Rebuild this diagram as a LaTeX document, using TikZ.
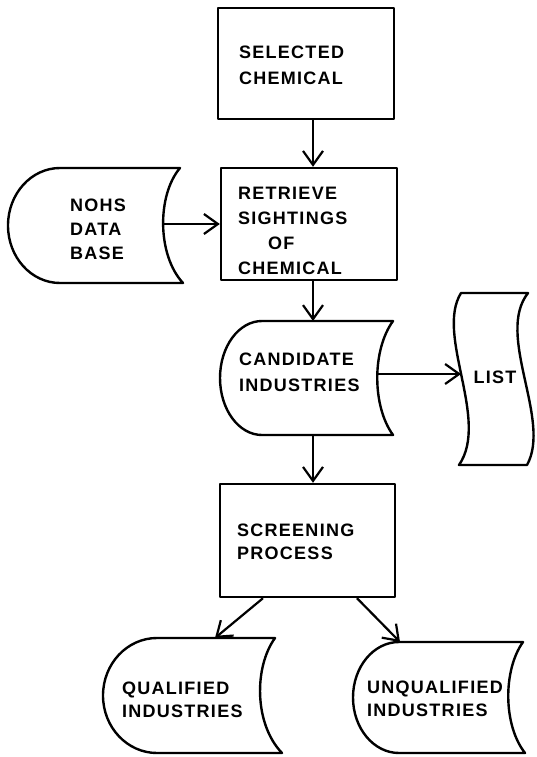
\documentclass[tikz,border=0pt]{standalone}
\usepackage{fontspec}
\newfontfamily\plotfont{Liberation Sans}[LetterSpace=7]
\usetikzlibrary{arrows.meta,calc}

\begin{document}
\begin{tikzpicture}[x=1pt,y=-1pt,
  outline/.style={draw=black,line width=2.4pt,line join=round},
  procbox/.style={outline,rectangle,inner sep=0pt},
  txt/.style={font=\plotfont\bfseries\fontsize{18}{25}\selectfont,align=left,anchor=west,inner sep=0pt},
  flow/.style={line width=2.2pt,-{Straight Barb[length=14pt,width=20pt]}}]
\useasboundingbox (0,0) rectangle (536,757);
\fill[white] (0,0) rectangle (536,757);

% process boxes
\node[procbox,minimum width=176pt,minimum height=111pt] (sel) at (306,63.5) {};
\node[procbox,minimum width=176pt,minimum height=112pt] (ret) at (309,224) {};
\node[procbox,minimum width=175pt,minimum height=113pt] (scr) at (307.5,540.5) {};

\node[txt,font=\plotfont\bfseries\fontsize{18}{26}\selectfont] (selT) at (239,65) {SELECTED\\CHEMICAL};
\node[txt] (retT) at (238,230.5) {RETRIEVE\\SIGHTINGS\\\hspace*{30pt}OF\\CHEMICAL};
\node[txt,font=\plotfont\bfseries\fontsize{18}{23}\selectfont] (scrT) at (237,541.5) {SCREENING\\PROCESS};

% stored data: NOHS data base
\draw[outline] (180,168) -- (60,168)
  .. controls (31.3,168) and (8,193.7) .. (8,225.5)
  .. controls (8,257.3) and (31.3,283) .. (60,283) -- (183,283)
  .. controls (157,255) and (157,195) .. (180,168) -- cycle;
\coordinate (nohsR) at (163,224);
\node[txt,font=\plotfont\bfseries\fontsize{18}{24}\selectfont] (nohsT) at (70,229) {NOHS\\DATA\\BASE};

% stored data: candidate industries
\draw[outline] (393,321) -- (262,321)
  .. controls (238.8,321) and (220,346.5) .. (220,378)
  .. controls (220,409.5) and (238.8,435) .. (262,435) -- (393,435)
  .. controls (372,406) and (372,350) .. (393,321) -- cycle;
\coordinate (candTop) at (313,321);
\coordinate (candBot) at (313,435);
\coordinate (candR) at (377.5,374);
\node[txt,font=\plotfont\bfseries\fontsize{18}{26}\selectfont] (candT) at (239,372) {CANDIDATE\\INDUSTRIES};

% punched tape: list
\draw[outline] (461,293) -- (528,293)
  .. controls (495,335) and (552,420) .. (527,465) -- (459,465)
  .. controls (490,420) and (435,335) .. (461,293) -- cycle;
\coordinate (listL) at (461,374);
\node[txt,anchor=center] (listT) at (495,377) {LIST};

% stored data: qualified industries
\draw[outline] (275,638) -- (157,638)
  .. controls (127.2,638) and (103,663.7) .. (103,695.5)
  .. controls (103,727.3) and (127.2,753) .. (157,753) -- (282,753)
  .. controls (254,724) and (254,667) .. (275,638) -- cycle;
\coordinate (qualTop) at (215,638);
\node[txt,font=\plotfont\bfseries\fontsize{18}{23}\selectfont] (qualT) at (122,699.5) {QUALIFIED\\INDUSTRIES};

% stored data: unqualified industries
\draw[outline] (523,642) -- (399,642)
  .. controls (373.6,642) and (353,666.8) .. (353,697.5)
  .. controls (353,728.2) and (373.6,753) .. (399,753) -- (525,753)
  .. controls (503,725) and (503,670) .. (523,642) -- cycle;
\coordinate (unqTop) at (400,642);
\node[txt,font=\plotfont\bfseries\fontsize{18}{23}\selectfont] (unqT) at (367,698.5) {UNQUALIFIED\\INDUSTRIES};

% connectors
\draw[flow] ([xshift=7pt]sel.south) -- ([xshift=4pt]ret.north);
\draw[flow] (nohsR) -- (ret.west);
\draw[flow] ([xshift=4pt]ret.south) -- (candTop);
\draw[flow] (candR) -- (listL);
\draw[flow] (candBot) -- ([xshift=5.5pt]scr.north);
\draw[flow] ([xshift=-44.5pt]scr.south) -- (qualTop);
\draw[flow] ([xshift=49.5pt]scr.south) -- (unqTop);
\end{tikzpicture}
\end{document}
